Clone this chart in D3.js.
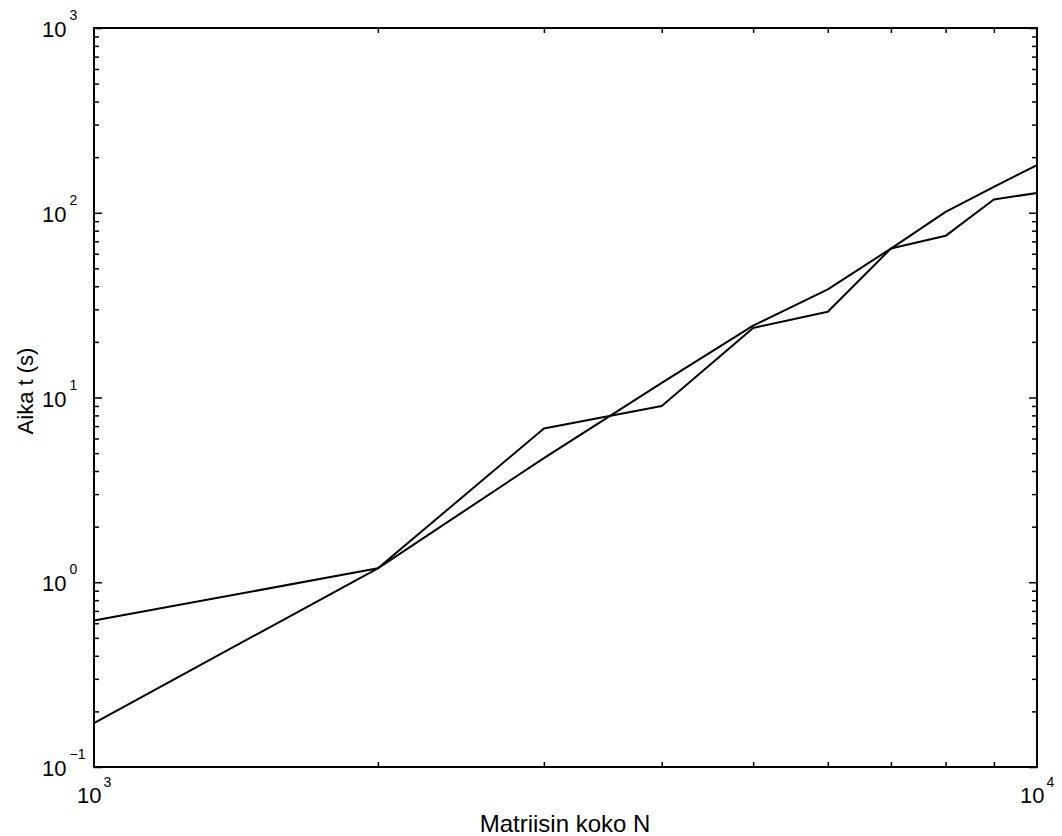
<!DOCTYPE html>
<html>
<head>
<meta charset="utf-8">
<script src="https://cdn.jsdelivr.net/npm/d3@7"></script>
<style>
  body { margin: 0; background: #fff; }
  text { font-family: "Liberation Sans", Arial, sans-serif; fill: #000; }
</style>
</head>
<body>
<svg id="chart" width="1062" height="836"></svg>
<script>
// matrix size N and computation time t (s)
const sizes = [1000, 2000, 3000, 4000, 5000, 6000, 7000, 8000, 9000, 10000];
const timeSmooth = [0.173, 1.19, 4.7, 12.0, 24.5, 38.5, 64, 101, 138, 181];
const timeMeasured = [0.62, 1.19, 6.8, 9.0, 23.8, 29.1, 64, 75, 118, 128];
const xDecades = [3, 4];
const yDecades = [-1, 0, 1, 2, 3];

const svg = d3.select("#chart"),
  margin = { top: 28, right: 25, bottom: 69, left: 94 },
  width = +svg.attr("width") - margin.left - margin.right,
  height = +svg.attr("height") - margin.top - margin.bottom;

const x = d3.scaleLog().domain([1e3, 1e4]).range([0, width]);
const y = d3.scaleLog().domain([1e-1, 1e3]).range([height, 0]);

const g = svg.append("g")
  .attr("transform", "translate(" + margin.left + "," + margin.top + ")");

// minor + major tick values
const xMinor = d3.range(2, 10).map(k => k * 1e3);
const yMinor = [];
yDecades.slice(0, -1).forEach(p => {
  for (let k = 2; k < 10; k++) yMinor.push(k * Math.pow(10, p));
});

function ticks(axisFn, scale, values, size, transform) {
  g.append("g")
    .attr("transform", transform)
    .call(axisFn(scale).tickValues(values).tickSize(size).tickFormat(""))
    .call(s => s.select(".domain").remove())
    .call(s => s.selectAll("line").attr("stroke", "#000").attr("stroke-width", 1.5));
}

// ticks point inward on all four sides
ticks(d3.axisBottom, x, xMinor, -5, "translate(0," + height + ")");
ticks(d3.axisTop, x, xMinor, -5, "translate(0,0)");
ticks(d3.axisLeft, y, yMinor, -5, "translate(0,0)");
ticks(d3.axisRight, y, yMinor, -5, "translate(" + width + ",0)");
ticks(d3.axisLeft, y, yDecades.map(p => Math.pow(10, p)), -8, "translate(0,0)");
ticks(d3.axisRight, y, yDecades.map(p => Math.pow(10, p)), -8, "translate(" + width + ",0)");

// frame
g.append("rect")
  .attr("width", width)
  .attr("height", height)
  .attr("fill", "none")
  .attr("stroke", "#000")
  .attr("stroke-width", 2);

// y tick labels 10^p
yDecades.forEach(p => {
  const t = svg.append("text")
    .attr("x", 42)
    .attr("y", margin.top + y(Math.pow(10, p)) + 9)
    .attr("font-size", 22);
  t.append("tspan").text("10");
  t.append("tspan")
    .attr("dx", 3)
    .attr("dy", -17)
    .attr("font-size", 14)
    .text(p < 0 ? "\u2212" + (-p) : p);
});

// x tick labels 10^p
xDecades.forEach(p => {
  const t = svg.append("text")
    .attr("x", margin.left + x(Math.pow(10, p)) - 17)
    .attr("y", 803)
    .attr("font-size", 22);
  t.append("tspan").text("10");
  t.append("tspan")
    .attr("dx", 2)
    .attr("dy", -16)
    .attr("font-size", 14)
    .text(p);
});

const line = d3.line()
  .x(d => x(d[0]))
  .y(d => y(d[1]));

[timeSmooth, timeMeasured].forEach(series => {
  g.append("path")
    .datum(sizes.map((n, i) => [n, series[i]]))
    .attr("fill", "none")
    .attr("stroke", "#000")
    .attr("stroke-width", 2)
    .attr("stroke-linejoin", "round")
    .attr("d", line);
});

// axis labels
svg.append("text")
  .attr("x", 565)
  .attr("y", 832)
  .attr("text-anchor", "middle")
  .attr("font-size", 24)
  .text("Matriisin koko N");

svg.append("text")
  .attr("transform", "translate(33,391) rotate(-90)")
  .attr("text-anchor", "middle")
  .attr("font-size", 22)
  .text("Aika t (s)");
</script>
</body>
</html>
